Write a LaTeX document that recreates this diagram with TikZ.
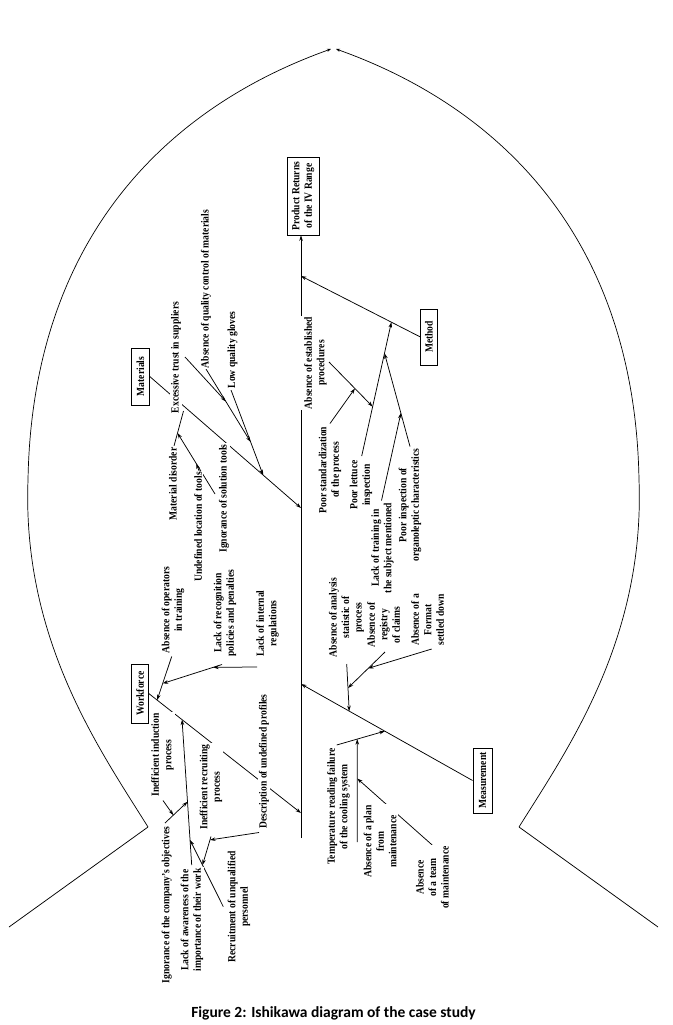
\documentclass[tikz,border=0pt]{standalone}
\usepackage{fontspec}
\setmainfont{Liberation Serif}[FakeStretch=0.88]
\newfontfamily\capfont{Carlito}
\usetikzlibrary{arrows.meta,calc}
\pgfdeclarelayer{back}
\pgfdeclarelayer{lines}
\pgfsetlayers{back,lines,main}
\newcommand\lblfont{\bfseries\fontsize{10.9}{12.5}\selectfont}
\begin{document}
\begin{tikzpicture}[x=1pt,y=-1pt,
  ln/.style={line width=0.75pt},
  arr/.style={line width=0.75pt,-{Stealth[length=5.5pt,width=3.6pt]}},
  arcl/.style={line width=0.7pt,-{Stealth[length=4pt,width=3pt]}},
  lbl/.style={rotate=90,align=center,fill=white,inner sep=1.2pt,font=\lblfont},
  boxn/.style={rotate=90,draw,line width=0.9pt,align=center,fill=white,font=\lblfont,inner sep=1.5pt}]
\useasboundingbox (0,0) rectangle (672,1025);
\begin{pgfonlayer}{back}\fill[white] (0,0) rectangle (672,1025);\end{pgfonlayer}

% ---------- boxes ----------
\node[boxn,minimum width=78,minimum height=32] (pr) at (303,196) {Product Returns\\of the IV Range};
\node[boxn,minimum width=57,minimum height=17.6] (mat) at (140.5,376.5) {Materials};
\node[boxn,minimum width=59,minimum height=16.6] (wf) at (140,693.5) {Workforce};
\node[boxn,minimum width=56,minimum height=16.3] (meth) at (429,337) {Method};
\node[boxn,minimum width=65,minimum height=19] (meas) at (482.5,780.5) {Measurement};

% ---------- materials labels ----------
\node[lbl] (ttrust) at (176,357.5) {Excessive trust in suppliers};
\node[lbl] (tqc) at (206,289) {Absence of quality control of materials};
\node[lbl] (tglv) at (232.5,350) {Low quality gloves};
\node[lbl] (tmd) at (173,484) {Material disorder};
\node[lbl] (tund) at (198,527) {Undefined location of tools};
\node[lbl] (tign) at (224,498.5) {Ignorance of solution tools};

% ---------- workforce labels ----------
\node[lbl] (top) at (173,610) {Absence of operators\\in training};
\node[lbl] (trec) at (225,613) {Lack of recognition\\policies and penalties};
\node[lbl] (tint) at (267.5,623.5) {Lack of internal\\regulations};
\node[lbl] (tind) at (162.5,755) {Inefficient induction\\process};
\node[lbl] (trcr) at (211,787) {Inefficient recruiting\\process};
\node[lbl] (tdesc) at (264,761.5) {Description of undefined profiles};
\node[lbl] (tigc) at (166.7,905) {Ignorance of the company's objectives};
\node[lbl] (taw) at (192,920) {Lack of awareness of the\\importance of their work};
\node[lbl] (tru) at (239,907) {Recruitment of unqualified\\personnel};

% ---------- method labels ----------
\node[lbl] (test) at (315.5,363) {Absence of established\\procedures};
\node[lbl] (tstd) at (330,470) {Poor standardization\\of the process};
\node[lbl] (tlet) at (361,485) {Poor lettuce\\inspection};
\node[lbl] (ttrn) at (382.5,548) {Lack of training in\\the subject mentioned};
\node[lbl] (torg) at (410,505) {Poor inspection of\\organoleptic characteristics};

% ---------- measurement labels ----------
\node[lbl] (tan) at (346.5,617.5) {Absence of analysis\\statistic of\\process};
\node[lbl] (treg) at (383.5,625) {Absence of\\registry\\of claims};
\node[lbl] (tfmt) at (427.5,620) {Absence of a\\Format\\settled down};
\node[lbl] (ttmp) at (338.5,806.5) {Temperature reading failure\\of the cooling system};
\node[lbl] (tpl) at (380,841.5) {Absence of a plan\\from\\maintenance};
\node[lbl] (ttm) at (432.5,877.5) {Absence\\of a team\\of maintenance};

% ---------- caption ----------
\node[font=\capfont\bfseries\fontsize{15.5}{18}\selectfont] (cap) at (333.5,1013) {Figure 2: Ishikawa diagram of the case study};

\begin{pgfonlayer}{lines}
% outline
\coordinate (vL) at (148,827); \coordinate (eL) at (9,927); \coordinate (aL) at (331,49);
\coordinate (vR) at (519,827); \coordinate (eR) at (658,927); \coordinate (aR) at (336,49);
\draw[ln] (vL) -- (eL);
\draw[ln] (vR) -- (eR);
\draw[arcl] (vL) .. controls (100,750) and (22,640) .. (28,480) .. controls (32,245) and (160,110) .. (aL);
\draw[arcl] (vR) .. controls (567,750) and (645,640) .. (639,480) .. controls (635,245) and (507,110) .. (aR);

% spine
\coordinate (sp0) at (301,838);
\coordinate (spg1) at (301,410);
\coordinate (spg2) at (301,316);
\coordinate (sMat) at (301,508);
\coordinate (sWf) at (301,813);
\coordinate (sMeth) at (301,276);
\coordinate (sMeas) at (301,684);
\draw[ln] (sp0) -- (spg1);
\draw[arr] (spg2) -- (sp0 |- pr.west);

% materials
\draw[arr] (mat.south) -- (sMat);
\coordinate (gl0) at (231,390);
\coordinate (gl1) at ($(mat.south)!0.7495!(sMat)$);
\draw[arr] (gl0) -- (gl1);
\coordinate (qc0) at (206,369);
\coordinate (qc1) at ($(gl0)!0.611!(gl1)$);
\draw[arr] (qc0) -- (qc1);
\coordinate (tr0) at (185,357);
\coordinate (tr1) at ($(qc0)!0.445!(qc1)$);
\draw[arr] (tr0) -- (tr1);
\coordinate (md0) at (174,446);
\coordinate (md1) at (183.5,411);
\draw[ln] (md0) -- (md1);
\coordinate (ig0) at (215,494);
\coordinate (ig1) at ($(md0)!0.37!(md1)$);
\draw[arr] (ig0) -- (ig1);
\coordinate (un0) at (199.5,472);
\coordinate (un1) at ($(ig0)!0.5!(ig1)$);
\draw[arr] (un0) -- (un1);

% workforce
\draw[arr] (wf.south) -- (sWf);
\coordinate (op0) at (171.7,656.5);
\coordinate (op1) at ($(wf.south)!0.055!(sWf)$);
\draw[arr] (op0) -- (op1);
\coordinate (rc0) at (222,664.5);
\coordinate (rc1) at ($(op0)!0.619!(op1)$);
\draw[arr] (rc0) -- (rc1);
\coordinate (in0) at (257,667);
\coordinate (in1) at ($(rc0)!0.15!(rc1)$);
\draw[arr] (in0) -- (in1);
\coordinate (aw0) at (191.7,865);
\coordinate (aw1) at ($(wf.south)!0.2187!(sWf)$);
\draw[arr] (aw0) -- (aw1);
\coordinate (gc0) at (165,823);
\coordinate (gc1) at ($(aw0)!0.435!(aw1)$);
\draw[arr] (gc0) -- (gc1);
\coordinate (id0) at (163,800.5);
\coordinate (id1) at ($(gc0)!0.371!(gc1)$);
\draw[arr] (id0) -- (id1);
\coordinate (ru0) at (223.3,906.7);
\coordinate (ru1) at ($(aw0)!0.172!(aw1)$);
\draw[arr] (ru0) -- (ru1);
\coordinate (ri0) at (211,836.5);
\coordinate (ri1) at ($(ru0)!0.625!(ru1)$);
\draw[arr] (ri0) -- (ri1);
\coordinate (de0) at (259,832.5);
\coordinate (de1) at ($(ri0)!0.12!(ri1)$);
\draw[arr] (de0) -- (de1);

% method
\draw[arr] (meth.north) -- (sMeth);
\coordinate (le0) at (361.7,456);
\coordinate (le1) at ($(meth.north)!0.243!(sMeth)$);
\draw[arr] (le0) -- (le1);
\coordinate (or0) at (410,446.5);
\coordinate (or1) at ($(le0)!0.768!(le1)$);
\draw[arr] (or0) -- (or1);
\coordinate (tn0) at (381.5,500.5);
\coordinate (tn1) at ($(or0)!0.358!(or1)$);
\draw[arr] (tn0) -- (tn1);
\coordinate (es0) at (329,362);
\coordinate (es1) at ($(le0)!0.369!(le1)$);
\draw[arr] (es0) -- (es1);
\coordinate (st0) at (330,423.5);
\coordinate (st1) at ($(es0)!0.594!(es1)$);
\draw[arr] (st0) -- (st1);

% measurement
\draw[arr] (meas.north) -- (sMeas);
\coordinate (an0) at (346.7,664);
\coordinate (an1) at ($(meas.north)!0.719!(sMeas)$);
\draw[arr] (an0) -- (an1);
\coordinate (rg0) at (385,652);
\coordinate (rg1) at ($(an0)!0.51!(an1)$);
\draw[arr] (rg0) -- (rg1);
\coordinate (fm0) at (431.7,649);
\coordinate (fm1) at ($(rg0)!0.453!(rg1)$);
\draw[arr] (fm0) -- (fm1);
\coordinate (tp0) at (336.7,745);
\coordinate (tp1) at ($(meas.north)!0.5116!(sMeas)$);
\draw[arr] (tp0) -- (tp1);
\coordinate (pl0) at (357.3,842);
\coordinate (pl1) at ($(tp0)!0.4265!(tp1)$);
\draw[arr] (pl0) -- (pl1);
\coordinate (tm0) at (433.3,846);
\coordinate (tm1) at ($(pl0)!0.617!(pl1)$);
\draw[arr] (tm0) -- (tm1);
\end{pgfonlayer}
\end{tikzpicture}
\end{document}
